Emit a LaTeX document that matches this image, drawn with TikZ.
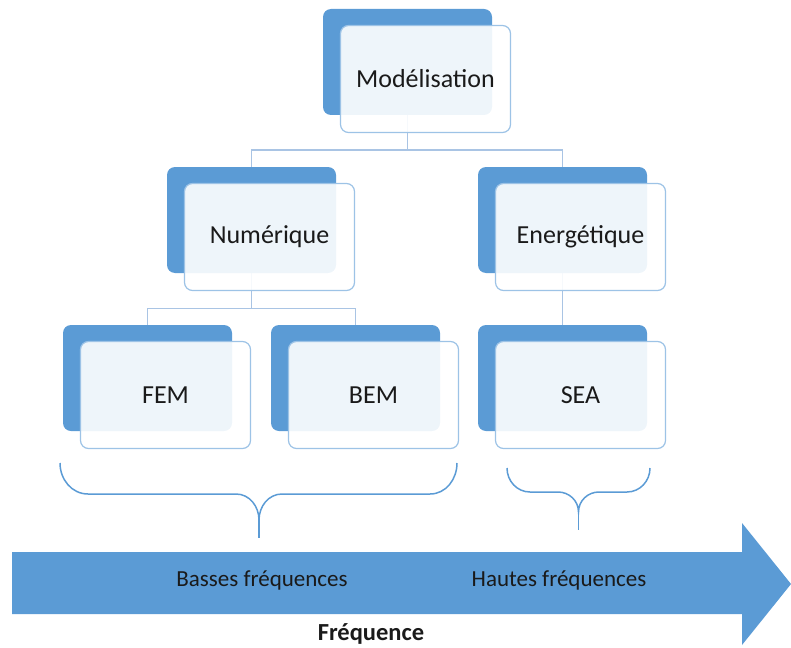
\documentclass[tikz,border=0pt]{standalone}
\usepackage{fontspec}
\setmainfont{Carlito}
\definecolor{dblue}{HTML}{5B9BD5}
\definecolor{lblue}{HTML}{9DC3E6}
\definecolor{cblue}{HTML}{A9C4E4}
\definecolor{tcol}{HTML}{1A1A1A}
\pgfdeclarelayer{bg}
\pgfsetlayers{bg,main}
\tikzset{
  darkbox/.style={fill=dblue, draw=none, rounded corners=8pt, minimum width=169pt, minimum height=106pt, inner sep=0pt},
  lightbox/.style={draw=lblue, line width=1.2pt, fill=white, fill opacity=0.9, text opacity=1, rounded corners=8pt, minimum width=170pt, minimum height=107pt, inner sep=0pt, font=\fontsize{26}{30}\selectfont, text=tcol},
  conn/.style={draw=cblue, line width=1.4pt},
  brace/.style={draw=dblue, line width=1.5pt},
  arrlabel/.style={font=\fontsize{23}{27}\selectfont, text=tcol, inner sep=0pt},
}
\begin{document}
\begin{tikzpicture}[x=1pt,y=-1pt]
\useasboundingbox (0,0) rectangle (791,647);
% boxes
\node[darkbox] (mD) at (407.5,62) {};
\node[lightbox] (mL) at (425.5,79) {Modélisation};
\node[darkbox] (nD) at (251.5,220) {};
\node[lightbox] (nL) at (269.5,237) {Numérique};
\node[darkbox] (eD) at (562.5,220) {};
\node[lightbox] (eL) at (580.5,237) {Energétique};
\node[darkbox] (fD) at (147.5,378) {};
\node[lightbox] (fL) at (165.5,395) {FEM};
\node[darkbox] (bD) at (355.5,378) {};
\node[lightbox] (bL) at (373.5,395) {BEM};
\node[darkbox] (sD) at (562.5,378) {};
\node[lightbox] (sL) at (580.5,395) {SEA};
% connectors
\begin{pgfonlayer}{bg}
\draw[conn] (mD.south) -- ++(0,35) -| (nD.north);
\draw[conn] (mD.south) -- ++(0,35) -| (eD.north);
\draw[conn] (nD.south) -- ++(0,35) -| (fD.north);
\draw[conn] (nD.south) -- ++(0,35) -| (bD.north);
\draw[conn] (eD.south) -- (sD.north);
\end{pgfonlayer}
% braces
\draw[brace] (60,463) to[out=-90,in=180] (88,494) -- (236,494) to[out=0,in=90] (259,520) to[out=90,in=180] (282,494) -- (430,494) to[out=0,in=-90] (457,463);
\draw[brace] (259,520) -- (259,538);
\draw[brace] (507,468) to[out=-90,in=180] (530,492) -- (558,492) to[out=0,in=90] (578.5,512) to[out=90,in=180] (599,492) -- (627,492) to[out=0,in=-90] (650,468);
\draw[brace] (578.5,512) -- (578.5,530);
% arrow
\fill[dblue] (12,552) -- (742,552) -- (742,523) -- (791,584) -- (742,645) -- (742,614) -- (12,614) -- cycle;
\node[arrlabel] (lo) at (262,580) {Basses fréquences};
\node[arrlabel] (hi) at (559,580) {Hautes fréquences};
\node[font=\fontsize{24.5}{28}\selectfont\bfseries, text=tcol, inner sep=0pt] (fr) at (371,634) {Fréquence};
\end{tikzpicture}
\end{document}
